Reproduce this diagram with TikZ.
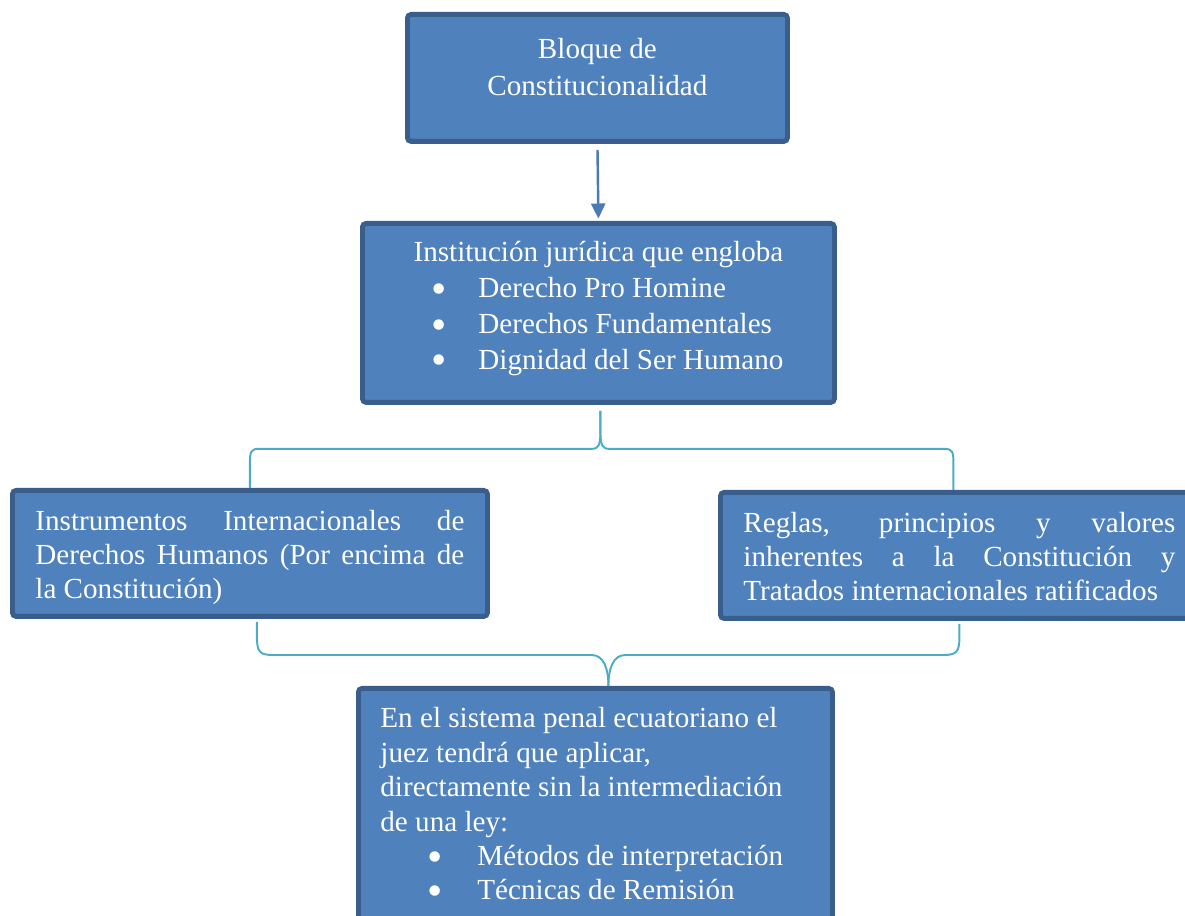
\documentclass[tikz,border=0pt]{standalone}
\usepackage{fontspec}
\setmainfont{Liberation Serif}
\usetikzlibrary{calc,arrows.meta}

\newdimen\pxu \pxu=0.412pt
\definecolor{boxfill}{HTML}{4F81BD}
\definecolor{boxline}{HTML}{3A5E8C}
\definecolor{bracecol}{HTML}{4BACC6}

\newcommand\bul[2]{\hspace*{#1\pxu}\makebox[#2\pxu][l]{\smash{\raisebox{-0.19em}{\scalebox{1.5}{\textbullet}}}}}
\newcommand\jline[1]{\makebox[\linewidth][s]{#1}}

\tikzset{
	blk/.style={draw=boxline,fill=boxfill,line width=2pt,rounded corners=1.5pt,
		anchor=north west,text=white},
	brc/.style={draw=bracecol,line width=0.8pt},
	arr/.style={draw=boxfill!95!black,line width=1pt,-{Triangle[width=5.8pt,length=6.2pt]}}
}

\begin{document}
\begin{tikzpicture}[x=\pxu,y=-\pxu]

\useasboundingbox (0,0) rectangle (1185,916);

\node [blk,inner xsep=20*\pxu,inner ysep=24*\pxu,font=\fontsize{12}{15.2}\selectfont]
	(bloque) at (405,12) {\parbox[t][79\pxu][t]{340\pxu}{\centering Bloque de\\Constitucionalidad}};

\node [blk,inner xsep=20*\pxu,inner ysep=18*\pxu,font=\fontsize{12}{14.8}\selectfont]
	(instit) at (360,221) {\parbox[t][143\pxu][t]{432\pxu}{{\centering Institución jurídica que engloba\par}
		\raggedright\bul{49}{47}Derecho Pro Homine\\
		\bul{49}{47}Derechos Fundamentales\\
		\bul{49}{47}Dignidad del Ser Humano}};

\node [blk,inner xsep=23*\pxu,inner ysep=20*\pxu,font=\fontsize{12}{14}\selectfont]
	(instr) at (10,488) {\parbox[t][86\pxu][t]{429\pxu}{\jline{Instrumentos Internacionales de}\\
		\jline{Derechos Humanos (Por encima de}\\
		la Constitución)}};

\node [blk,inner xsep=23*\pxu,inner ysep=20*\pxu,font=\fontsize{12}{13.9}\selectfont]
	(reglas) at (718,490) {\parbox[t][86\pxu][t]{432\pxu}{\jline{Reglas, principios y valores}\\
		\jline{inherentes a la Constitución y}\\
		Tratados internacionales ratificados}};

\node [blk,inner xsep=22*\pxu,inner ysep=19*\pxu,font=\fontsize{12}{14.2}\selectfont]
	(juez) at (356,686) {\parbox[t][222\pxu][t]{430\pxu}{\raggedright En el sistema penal ecuatoriano el\\
		juez tendrá que aplicar,\\
		directamente sin la intermediación\\
		de una ley:\\
		\bul{47}{50}Métodos de interpretación\\
		\bul{47}{50}Técnicas de Remisión}};

\draw [arr,shorten <=2.5pt,shorten >=1pt] (bloque.south) -- (instit.north);

% upper brace
\coordinate (t1) at ($(instit.south)+(2,6)$);
\coordinate (m1) at ($(t1)+(0,38)$);
\coordinate (e1l) at (instr.north);
\coordinate (e1r) at ($(reglas.north)+(-6,0)$);

\foreach \s/\e in {-1/e1l,1/e1r} {
	\draw [brc] (t1) -- ($(m1)+(0,-18)$)
		.. controls ($(m1)+(0,-3)$) and ($(m1)+(2*\s,0)$) .. ($(m1)+(9*\s,0)$)
		-- ($(\e |- m1)+(-9*\s,0)$)
		.. controls ($(\e |- m1)+(-1*\s,0)$) and ($(\e |- m1)+(0,3)$) .. ($(\e |- m1)+(0,14)$)
		-- (\e);
}

% lower brace
\coordinate (t2) at ($(juez.north)+(13,0)$);
\coordinate (m2) at ($(t2)+(0,-31)$);
\coordinate (e2l) at ($(instr.south)+(7,3)$);
\coordinate (e2r) at ($(reglas.south)+(0,3)$);

\foreach \s/\e in {-1/e2l,1/e2r} {
	\draw [brc] (\e) -- ($(\e |- m2)+(0,-18)$)
		.. controls ($(\e |- m2)+(0,-3)$) and ($(\e |- m2)+(-3*\s,0)$) .. ($(\e |- m2)+(-16*\s,0)$)
		-- ($(m2)+(17*\s,0)$)
		.. controls ($(m2)+(5*\s,0)$) and ($(t2)+(0,-18)$) .. (t2);
}

\end{tikzpicture}
\end{document}
